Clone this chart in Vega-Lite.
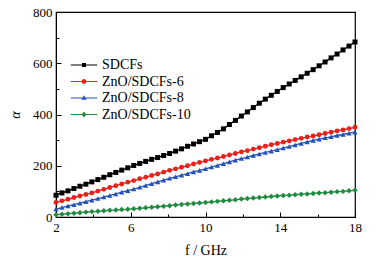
{
  "$schema": "https://vega.github.io/schema/vega-lite/v6.json",
  "width": 299,
  "height": 205,
  "autosize": {"type": "none"},
  "padding": {"left": 56, "top": 12, "right": 22, "bottom": 44},
  "background": "white",
  "config": {
    "font": "Liberation Serif",
    "view": {"stroke": "#000000", "strokeWidth": 1.2},
    "axis": {
      "labelFont": "Liberation Serif",
      "titleFont": "Liberation Serif",
      "labelColor": "#000000",
      "titleColor": "#000000",
      "domainColor": "#000000",
      "tickColor": "#000000",
      "labelFontSize": 13,
      "titleFontSize": 14,
      "titleFontWeight": "normal",
      "grid": false
    },
    "legend": {
      "labelFont": "Liberation Serif",
      "labelFontSize": 14,
      "labelColor": "#000000"
    }
  },
  "data": {
    "values": [
      {"f": 2.00, "SDCFs": 85, "ZnO/SDCFs-6": 57, "ZnO/SDCFs-8": 31, "ZnO/SDCFs-10": 9},
      {"f": 2.32, "SDCFs": 94, "ZnO/SDCFs-6": 63, "ZnO/SDCFs-8": 37, "ZnO/SDCFs-10": 11},
      {"f": 2.64, "SDCFs": 102, "ZnO/SDCFs-6": 69, "ZnO/SDCFs-8": 43, "ZnO/SDCFs-10": 13},
      {"f": 2.96, "SDCFs": 111, "ZnO/SDCFs-6": 76, "ZnO/SDCFs-8": 48, "ZnO/SDCFs-10": 15},
      {"f": 3.28, "SDCFs": 120, "ZnO/SDCFs-6": 82, "ZnO/SDCFs-8": 54, "ZnO/SDCFs-10": 17},
      {"f": 3.60, "SDCFs": 128, "ZnO/SDCFs-6": 88, "ZnO/SDCFs-8": 60, "ZnO/SDCFs-10": 19},
      {"f": 3.92, "SDCFs": 137, "ZnO/SDCFs-6": 94, "ZnO/SDCFs-8": 66, "ZnO/SDCFs-10": 21},
      {"f": 4.24, "SDCFs": 146, "ZnO/SDCFs-6": 101, "ZnO/SDCFs-8": 72, "ZnO/SDCFs-10": 22},
      {"f": 4.56, "SDCFs": 155, "ZnO/SDCFs-6": 108, "ZnO/SDCFs-8": 78, "ZnO/SDCFs-10": 24},
      {"f": 4.88, "SDCFs": 165, "ZnO/SDCFs-6": 115, "ZnO/SDCFs-8": 84, "ZnO/SDCFs-10": 26},
      {"f": 5.20, "SDCFs": 174, "ZnO/SDCFs-6": 122, "ZnO/SDCFs-8": 90, "ZnO/SDCFs-10": 27},
      {"f": 5.52, "SDCFs": 183, "ZnO/SDCFs-6": 129, "ZnO/SDCFs-8": 97, "ZnO/SDCFs-10": 29},
      {"f": 5.84, "SDCFs": 192, "ZnO/SDCFs-6": 136, "ZnO/SDCFs-8": 103, "ZnO/SDCFs-10": 30},
      {"f": 6.16, "SDCFs": 201, "ZnO/SDCFs-6": 142, "ZnO/SDCFs-8": 109, "ZnO/SDCFs-10": 32},
      {"f": 6.48, "SDCFs": 209, "ZnO/SDCFs-6": 149, "ZnO/SDCFs-8": 116, "ZnO/SDCFs-10": 34},
      {"f": 6.80, "SDCFs": 217, "ZnO/SDCFs-6": 155, "ZnO/SDCFs-8": 123, "ZnO/SDCFs-10": 36},
      {"f": 7.12, "SDCFs": 225, "ZnO/SDCFs-6": 162, "ZnO/SDCFs-8": 130, "ZnO/SDCFs-10": 38},
      {"f": 7.44, "SDCFs": 232, "ZnO/SDCFs-6": 168, "ZnO/SDCFs-8": 137, "ZnO/SDCFs-10": 40},
      {"f": 7.76, "SDCFs": 240, "ZnO/SDCFs-6": 175, "ZnO/SDCFs-8": 144, "ZnO/SDCFs-10": 42},
      {"f": 8.08, "SDCFs": 248, "ZnO/SDCFs-6": 182, "ZnO/SDCFs-8": 151, "ZnO/SDCFs-10": 44},
      {"f": 8.40, "SDCFs": 257, "ZnO/SDCFs-6": 188, "ZnO/SDCFs-8": 157, "ZnO/SDCFs-10": 47},
      {"f": 8.72, "SDCFs": 266, "ZnO/SDCFs-6": 194, "ZnO/SDCFs-8": 163, "ZnO/SDCFs-10": 49},
      {"f": 9.04, "SDCFs": 276, "ZnO/SDCFs-6": 200, "ZnO/SDCFs-8": 169, "ZnO/SDCFs-10": 51},
      {"f": 9.36, "SDCFs": 285, "ZnO/SDCFs-6": 207, "ZnO/SDCFs-8": 176, "ZnO/SDCFs-10": 53},
      {"f": 9.68, "SDCFs": 294, "ZnO/SDCFs-6": 213, "ZnO/SDCFs-8": 182, "ZnO/SDCFs-10": 55},
      {"f": 10.00, "SDCFs": 303, "ZnO/SDCFs-6": 219, "ZnO/SDCFs-8": 188, "ZnO/SDCFs-10": 57},
      {"f": 10.32, "SDCFs": 317, "ZnO/SDCFs-6": 225, "ZnO/SDCFs-8": 195, "ZnO/SDCFs-10": 59},
      {"f": 10.64, "SDCFs": 330, "ZnO/SDCFs-6": 230, "ZnO/SDCFs-8": 201, "ZnO/SDCFs-10": 61},
      {"f": 10.96, "SDCFs": 344, "ZnO/SDCFs-6": 236, "ZnO/SDCFs-8": 208, "ZnO/SDCFs-10": 63},
      {"f": 11.28, "SDCFs": 361, "ZnO/SDCFs-6": 242, "ZnO/SDCFs-8": 215, "ZnO/SDCFs-10": 65},
      {"f": 11.60, "SDCFs": 377, "ZnO/SDCFs-6": 248, "ZnO/SDCFs-8": 222, "ZnO/SDCFs-10": 67},
      {"f": 11.92, "SDCFs": 394, "ZnO/SDCFs-6": 254, "ZnO/SDCFs-8": 228, "ZnO/SDCFs-10": 70},
      {"f": 12.24, "SDCFs": 410, "ZnO/SDCFs-6": 259, "ZnO/SDCFs-8": 234, "ZnO/SDCFs-10": 72},
      {"f": 12.56, "SDCFs": 427, "ZnO/SDCFs-6": 265, "ZnO/SDCFs-8": 240, "ZnO/SDCFs-10": 74},
      {"f": 12.88, "SDCFs": 444, "ZnO/SDCFs-6": 270, "ZnO/SDCFs-8": 246, "ZnO/SDCFs-10": 76},
      {"f": 13.20, "SDCFs": 460, "ZnO/SDCFs-6": 276, "ZnO/SDCFs-8": 252, "ZnO/SDCFs-10": 78},
      {"f": 13.52, "SDCFs": 475, "ZnO/SDCFs-6": 282, "ZnO/SDCFs-8": 257, "ZnO/SDCFs-10": 80},
      {"f": 13.84, "SDCFs": 490, "ZnO/SDCFs-6": 287, "ZnO/SDCFs-8": 263, "ZnO/SDCFs-10": 82},
      {"f": 14.16, "SDCFs": 505, "ZnO/SDCFs-6": 292, "ZnO/SDCFs-8": 269, "ZnO/SDCFs-10": 84},
      {"f": 14.48, "SDCFs": 519, "ZnO/SDCFs-6": 297, "ZnO/SDCFs-8": 275, "ZnO/SDCFs-10": 85},
      {"f": 14.80, "SDCFs": 533, "ZnO/SDCFs-6": 302, "ZnO/SDCFs-8": 281, "ZnO/SDCFs-10": 87},
      {"f": 15.12, "SDCFs": 547, "ZnO/SDCFs-6": 307, "ZnO/SDCFs-8": 287, "ZnO/SDCFs-10": 89},
      {"f": 15.44, "SDCFs": 561, "ZnO/SDCFs-6": 312, "ZnO/SDCFs-8": 293, "ZnO/SDCFs-10": 90},
      {"f": 15.76, "SDCFs": 575, "ZnO/SDCFs-6": 316, "ZnO/SDCFs-8": 299, "ZnO/SDCFs-10": 92},
      {"f": 16.08, "SDCFs": 590, "ZnO/SDCFs-6": 321, "ZnO/SDCFs-8": 304, "ZnO/SDCFs-10": 94},
      {"f": 16.40, "SDCFs": 605, "ZnO/SDCFs-6": 326, "ZnO/SDCFs-8": 309, "ZnO/SDCFs-10": 95},
      {"f": 16.72, "SDCFs": 621, "ZnO/SDCFs-6": 331, "ZnO/SDCFs-8": 313, "ZnO/SDCFs-10": 97},
      {"f": 17.04, "SDCFs": 636, "ZnO/SDCFs-6": 336, "ZnO/SDCFs-8": 318, "ZnO/SDCFs-10": 99},
      {"f": 17.36, "SDCFs": 652, "ZnO/SDCFs-6": 340, "ZnO/SDCFs-8": 322, "ZnO/SDCFs-10": 100},
      {"f": 17.68, "SDCFs": 667, "ZnO/SDCFs-6": 345, "ZnO/SDCFs-8": 327, "ZnO/SDCFs-10": 102},
      {"f": 18.00, "SDCFs": 683, "ZnO/SDCFs-6": 350, "ZnO/SDCFs-8": 331, "ZnO/SDCFs-10": 104}
    ]
  },
  "transform": [
    {"fold": ["SDCFs", "ZnO/SDCFs-6", "ZnO/SDCFs-8", "ZnO/SDCFs-10"], "as": ["series", "alpha"]}
  ],
  "encoding": {
    "x": {
      "field": "f",
      "type": "quantitative",
      "scale": {"domain": [2, 18], "nice": false, "zero": false},
      "axis": {
        "title": "f / GHz",
        "values": [2, 4, 6, 8, 10, 12, 14, 16, 18],
        "labelExpr": "datum.value % 4 == 2 ? datum.label : ''",
        "tickSize": {"condition": {"test": "datum.value % 4 == 2", "value": -5}, "value": -3},
        "tickWidth": 1,
        "labelPadding": 9,
        "titlePadding": 7,
        "labelFlush": false,
        "labelOverlap": false
      }
    },
    "y": {
      "field": "alpha",
      "type": "quantitative",
      "scale": {"domain": [0, 800], "nice": false},
      "axis": {
        "title": "α",
        "titleFontStyle": "italic",
        "values": [0, 100, 200, 300, 400, 500, 600, 700, 800],
        "labelExpr": "datum.value % 200 == 0 ? datum.label : ''",
        "tickSize": {"condition": {"test": "datum.value % 200 == 0", "value": -5}, "value": -3},
        "tickWidth": 1,
        "labelPadding": 9,
        "titlePadding": 10,
        "labelFlush": false,
        "labelOverlap": false
      }
    },
    "color": {
      "field": "series",
      "type": "nominal",
      "scale": {
        "domain": ["SDCFs", "ZnO/SDCFs-6", "ZnO/SDCFs-8", "ZnO/SDCFs-10"],
        "range": ["#000000", "#e8211c", "#2452b8", "#1e8c3e"]
      },
      "legend": {
        "title": null,
        "orient": "none",
        "legendX": 21,
        "legendY": 46,
        "symbolSize": 144,
        "symbolStrokeWidth": 0,
        "symbolOpacity": 1,
        "labelOffset": 11,
        "rowPadding": 2.5,
        "encode": {
          "symbols": {
            "update": {
              "fill": {"scale": "color", "field": "value"},
              "fillOpacity": {"value": 1},
              "strokeWidth": {"value": 0},
              "shape": {"signal": "datum.value === 'SDCFs' ? 'M-2.2,-0.09H2.2V0.09H-2.2Z M-0.34,-0.34H0.34V0.34H-0.34Z' : datum.value === 'ZnO/SDCFs-6' ? 'M-2.2,-0.09H2.2V0.09H-2.2Z M-0.4,0A0.4,0.4,0,1,1,0.4,0A0.4,0.4,0,1,1,-0.4,0Z' : datum.value === 'ZnO/SDCFs-8' ? 'M-2.2,-0.09H2.2V0.09H-2.2Z M0,-0.45L0.45,0.3H-0.45Z' : 'M-2.2,-0.09H2.2V0.09H-2.2Z M0,-0.48L0.4,0L0,0.48L-0.4,0Z'"}
            }
          }
        }
      }
    }
  },
  "layer": [
    {
      "mark": {"type": "line", "strokeWidth": 1.3}
    },
    {
      "transform": [{"filter": "datum.series === 'SDCFs'"}],
      "mark": {"type": "point", "filled": true, "opacity": 1, "size": 25, "shape": "square"}
    },
    {
      "transform": [{"filter": "datum.series === 'ZnO/SDCFs-6'"}],
      "mark": {"type": "point", "filled": true, "opacity": 1, "size": 24, "shape": "circle"}
    },
    {
      "transform": [{"filter": "datum.series === 'ZnO/SDCFs-8'"}],
      "mark": {"type": "point", "filled": true, "opacity": 1, "size": 28, "shape": "triangle-up"}
    },
    {
      "transform": [{"filter": "datum.series === 'ZnO/SDCFs-10'"}],
      "mark": {"type": "point", "filled": true, "opacity": 1, "size": 30, "shape": "diamond"}
    }
  ]
}
